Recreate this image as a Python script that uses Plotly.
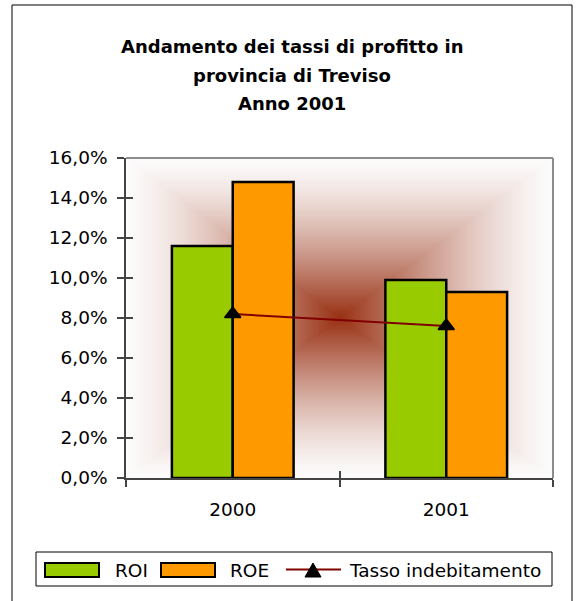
import base64
import struct
import zlib

import numpy as np
import plotly.graph_objects as go

# ---- data -------------------------------------------------------------
years = ["2000", "2001"]
roi = [11.6, 9.9]          # %
roe = [14.8, 9.3]          # %
tasso = [8.2, 7.6]         # %
series_names = ["ROI", "ROE", "Tasso indebitamento"]
y_tick_values = [0, 2, 4, 6, 8, 10, 12, 14, 16]   # %
title_lines = ["Andamento dei tassi di profitto in", "provincia di Treviso", "Anno 2001"]

# ---- styling ----------------------------------------------------------
GREEN = "#99CC00"
ORANGE = "#FF9900"
DARKRED = "#800000"
AXIS = "#444444"
FONT = "DejaVu Sans"

W_PAGE, H_PAGE = 576, 601
L, R, T, B = 126, 23, 158, 123
PW, PH = W_PAGE - L - R, H_PAGE - T - B


def px(x):
    """page pixel x -> paper coordinate"""
    return (x - L) / PW


def py(y):
    """page pixel y -> paper coordinate"""
    return (H_PAGE - B - y) / PH


def png_data_uri(rgb):
    h, w, _ = rgb.shape
    raw = b"".join(b"\x00" + rgb[i].tobytes() for i in range(h))

    def chunk(tag, data):
        return (struct.pack(">I", len(data)) + tag + data +
                struct.pack(">I", zlib.crc32(tag + data) & 0xFFFFFFFF))

    png = (b"\x89PNG\r\n\x1a\n" +
           chunk(b"IHDR", struct.pack(">IIBBBBB", w, h, 8, 2, 0, 0, 0)) +
           chunk(b"IDAT", zlib.compress(raw, 9)) +
           chunk(b"IEND", b""))
    return "data:image/png;base64," + base64.b64encode(png).decode()


# rectangular "from centre" gradient for the plot area background
gx = (np.arange(PW) + 0.5) / PW * 2 - 1
gy = (np.arange(PH) + 0.5) / PH * 2 - 1
t = np.maximum(np.abs(gx)[None, :], np.abs(gy)[:, None])
s = 1 - (1 - t) ** 1.4
c_center = np.array([152, 48, 18], dtype=float)
c_edge = np.array([252, 251, 251], dtype=float)
grad = (c_center + (c_edge - c_center) * s[..., None]).round().astype(np.uint8)

# ---- figure -----------------------------------------------------------
fig = go.Figure()
fig.add_trace(go.Bar(x=years, y=[v / 100 for v in roi], name=series_names[0],
                     marker=dict(color=GREEN, line=dict(color="black", width=2.5))))
fig.add_trace(go.Bar(x=years, y=[v / 100 for v in roe], name=series_names[1],
                     marker=dict(color=ORANGE, line=dict(color="black", width=2.5))))
fig.add_trace(go.Scatter(x=years, y=[v / 100 for v in tasso], name=series_names[2],
                         mode="lines+markers",
                         line=dict(color=DARKRED, width=2),
                         marker=dict(symbol="triangle-up", size=14, color="black",
                                     line=dict(color="black", width=1.5))))
# carrier for the inner half of the tick marks
fig.add_trace(go.Scatter(x=[], y=[], xaxis="x2", yaxis="y2", showlegend=False,
                         hoverinfo="skip"))

tickvals = [v / 100 for v in y_tick_values]

fig.update_layout(
    width=W_PAGE, height=H_PAGE,
    margin=dict(l=L, r=R, t=T, b=B),
    paper_bgcolor="white", plot_bgcolor="rgba(0,0,0,0)",
    separators=",.",
    barmode="group", bargap=0.43, bargroupgap=0,
    showlegend=False,
    font=dict(family=FONT, size=18.5, color="black"),
    xaxis=dict(type="category", range=[-0.5, 1.5], tickson="boundaries",
               ticks="outside", ticklen=7, tickwidth=1.5, tickcolor=AXIS,
               showline=True, linecolor=AXIS, linewidth=1.5,
               showgrid=False, zeroline=False, ticklabelstandoff=14),
    yaxis=dict(range=[0, 0.16], tickvals=tickvals, tickformat=".1%",
               ticks="outside", ticklen=7, tickwidth=1.5, tickcolor=AXIS,
               showline=True, linecolor=AXIS, linewidth=1.5,
               showgrid=False, zeroline=False, ticklabelstandoff=6),
    xaxis2=dict(overlaying="x", anchor="y2", range=[-0.5, 1.5],
                tickvals=[-0.5, 0.5, 1.5], ticks="inside", ticklen=7,
                tickwidth=1.5, tickcolor=AXIS, showticklabels=False,
                showgrid=False, zeroline=False, showline=False),
    yaxis2=dict(overlaying="y", anchor="x2", range=[0, 0.16], tickvals=tickvals,
                ticks="inside", ticklen=7, tickwidth=1.5, tickcolor=AXIS,
                showticklabels=False, showgrid=False, zeroline=False,
                showline=False),
    images=[dict(source=png_data_uri(grad), xref="paper", yref="paper",
                 x=0, y=1, sizex=1, sizey=1, xanchor="left", yanchor="top",
                 sizing="stretch", layer="below")],
)

shapes = [
    # chart area frame
    dict(type="rect", xref="paper", yref="paper", x0=px(12), x1=px(572),
         y0=py(620), y1=py(5), line=dict(color="black", width=1)),
    # plot area top and right edges
    dict(type="line", xref="paper", yref="paper", x0=0, x1=1, y0=1, y1=1,
         line=dict(color="#8c8c8c", width=2)),
    dict(type="line", xref="paper", yref="paper", x0=1, x1=1, y0=0, y1=1,
         line=dict(color="#8c8c8c", width=2)),
    # legend box
    dict(type="rect", xref="paper", yref="paper", x0=px(36), x1=px(552),
         y0=py(586), y1=py(552), fillcolor="white",
         line=dict(color="black", width=1)),
    # legend swatches
    dict(type="rect", xref="paper", yref="paper", x0=px(45), x1=px(99),
         y0=py(577), y1=py(563), fillcolor=GREEN,
         line=dict(color="black", width=2)),
    dict(type="rect", xref="paper", yref="paper", x0=px(161), x1=px(215),
         y0=py(577), y1=py(563), fillcolor=ORANGE,
         line=dict(color="black", width=2)),
    dict(type="line", xref="paper", yref="paper", x0=px(286), x1=px(341),
         y0=py(569.5), y1=py(569.5), line=dict(color=DARKRED, width=2)),
    dict(type="path", xref="paper", yref="paper",
         path=(f"M {px(305)} {py(577)} L {px(321)} {py(577)} "
               f"L {px(313)} {py(563)} Z"),
         fillcolor="black", line=dict(color="black", width=1)),
]
fig.update_layout(shapes=shapes)

annotations = []
for line, yy in zip(title_lines, [47, 75, 103]):
    annotations.append(dict(text=line, xref="paper", yref="paper", x=px(292),
                            y=py(yy), xanchor="center", yanchor="middle",
                            showarrow=False,
                            font=dict(family=FONT, size=18, color="black",
                                      weight="bold")))
for name, xx in zip(series_names, [113, 228, 347]):
    annotations.append(dict(text=name, xref="paper", yref="paper", x=px(xx),
                            y=py(570), xanchor="left", yanchor="middle",
                            showarrow=False,
                            font=dict(family=FONT, size=18.5, color="black")))
fig.update_layout(annotations=annotations)

fig.write_html("out.html")
